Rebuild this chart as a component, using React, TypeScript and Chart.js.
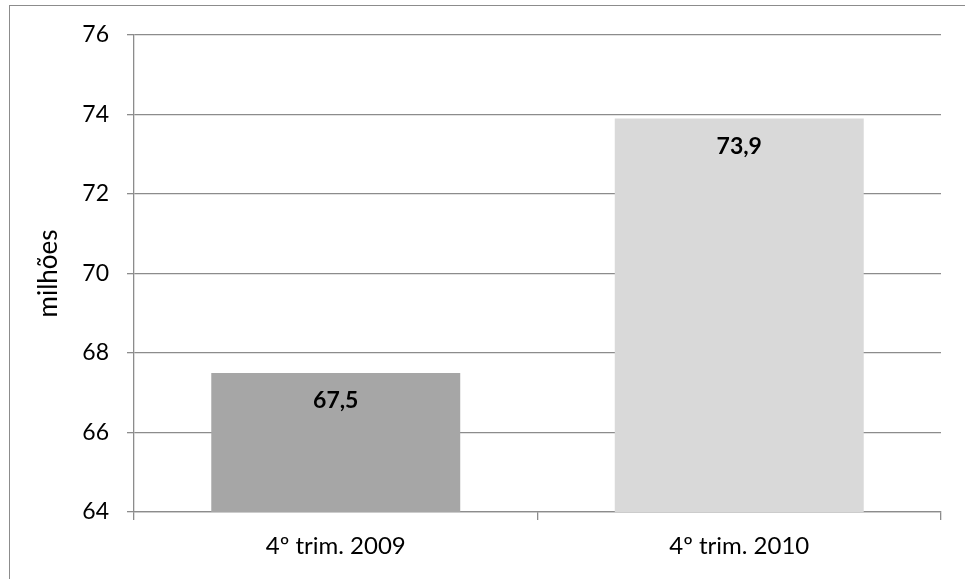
import React, { useEffect, useRef } from "react";
import { Chart, registerables } from "chart.js";

Chart.register(...registerables);

const categories = ["4º trim. 2009", "4º trim. 2010"];
const values = [67.5, 73.9];
const valueLabels = ["67,5", "73,9"];
const barColors = ["#A6A6A6", "#D9D9D9"];
const yMin = 64;
const yMax = 76;
const yStep = 2;
const yTitle = "milhões";

const FONT = "Lato, 'Open Sans', sans-serif";
const GRID = "#8C8C8C";

const valueLabelPlugin = {
  id: "valueLabels",
  afterDatasetsDraw(chart: any) {
    const ctx = chart.ctx;
    const meta = chart.getDatasetMeta(0);
    ctx.save();
    ctx.font = `bold 23px ${FONT}`;
    ctx.fillStyle = "#000";
    ctx.textAlign = "center";
    ctx.textBaseline = "middle";
    meta.data.forEach((bar: any, i: number) => {
      ctx.fillText(valueLabels[i], bar.x, bar.y + 28);
    });
    ctx.restore();
  },
};

export default function App() {
  const ref = useRef<HTMLCanvasElement | null>(null);

  useEffect(() => {
    if (!ref.current) return;
    const chart = new Chart(ref.current, {
      type: "bar",
      data: {
        labels: categories,
        datasets: [
          {
            data: values,
            backgroundColor: barColors,
            borderWidth: 0,
            categoryPercentage: 1,
            barPercentage: 0.617,
          },
        ],
      },
      options: {
        animation: false,
        responsive: false,
        devicePixelRatio: 1,
        layout: { padding: { left: 0, top: 35, right: 24, bottom: 0 } },
        plugins: {
          legend: { display: false },
          tooltip: { enabled: false },
        },
        scales: {
          x: {
            grid: {
              offset: true,
              drawOnChartArea: false,
              drawTicks: true,
              tickLength: 8,
              color: GRID,
              lineWidth: 1.3,
            },
            border: { display: true, color: GRID, width: 1.3 },
            ticks: {
              color: "#000",
              padding: 12,
              font: { family: FONT, size: 24 },
            },
            afterFit(scale: any) {
              scale.height = 67;
            },
          },
          y: {
            min: yMin,
            max: yMax,
            ticks: {
              stepSize: yStep,
              color: "#000",
              padding: 18,
              font: { family: FONT, size: 23 },
            },
            grid: {
              color: GRID,
              lineWidth: 1.3,
              tickLength: 7,
              drawTicks: true,
            },
            border: { display: true, color: GRID, width: 1.3 },
            title: {
              display: true,
              text: yTitle,
              color: "#000",
              font: { family: FONT, size: 26 },
              padding: { top: 33, bottom: 0 },
            },
            afterFit(scale: any) {
              scale.width = 134;
            },
          },
        },
      },
      plugins: [valueLabelPlugin],
    });
    return () => chart.destroy();
  }, []);

  return (
    <div
      style={{
        position: "fixed",
        left: 0,
        top: 0,
        width: 965,
        height: 579,
        background: "#fff",
        overflow: "hidden",
      }}
    >
      <div
        style={{
          position: "absolute",
          left: 9,
          top: 5,
          width: 1000,
          height: 1000,
          borderLeft: "1.5px solid #8C8C8C",
          borderTop: "1.5px solid #8C8C8C",
        }}
      />
      <canvas
        ref={ref}
        width={965}
        height={579}
        style={{ position: "absolute", left: 0, top: 0, width: 965, height: 579 }}
      />
    </div>
  );
}
